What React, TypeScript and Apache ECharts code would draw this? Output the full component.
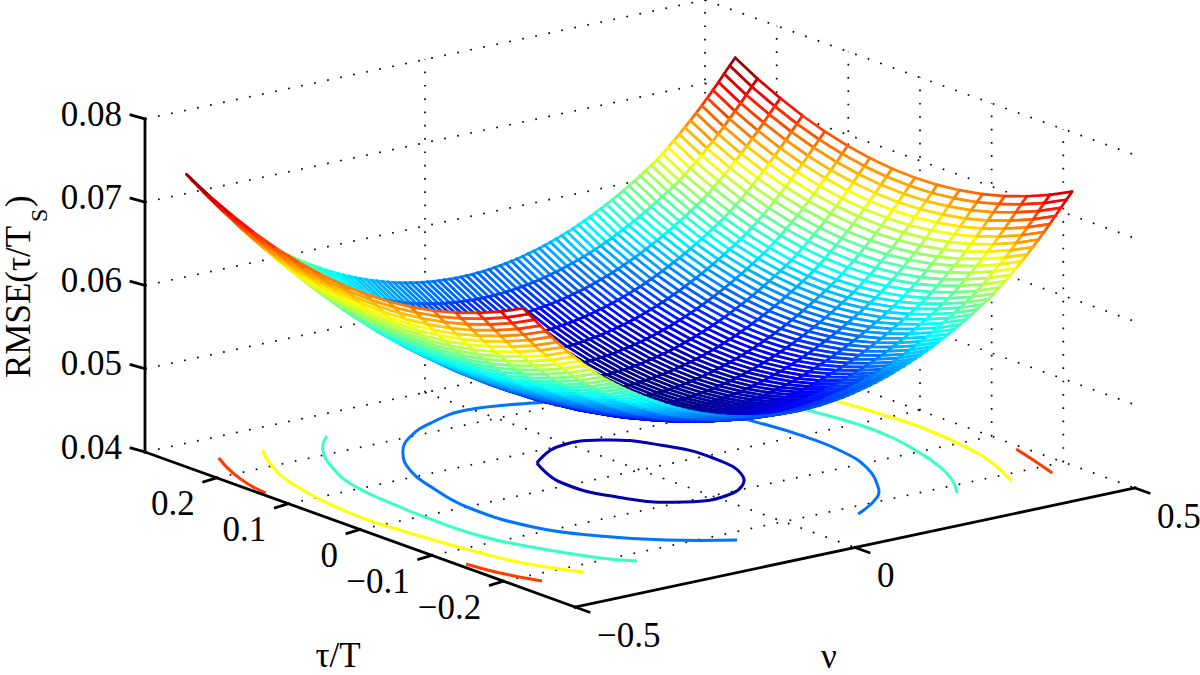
import React, { useEffect, useRef } from "react";
import * as echarts from "echarts";

const nuValues = [
  -0.49,-0.48,-0.47,-0.46,-0.45,-0.44,-0.43,-0.42,-0.41,-0.40,-0.39,-0.38,-0.37,-0.36,-0.35,-0.34,-0.33,
  -0.32,-0.31,-0.30,-0.29,-0.28,-0.27,-0.26,-0.25,-0.24,-0.23,-0.22,-0.21,-0.20,-0.19,-0.18,-0.17,-0.16,
  -0.15,-0.14,-0.13,-0.12,-0.11,-0.10,-0.09,-0.08,-0.07,-0.06,-0.05,-0.04,-0.03,-0.02,-0.01,0,
  0.01,0.02,0.03,0.04,0.05,0.06,0.07,0.08,0.09,0.10,0.11,0.12,0.13,0.14,0.15,0.16,0.17,
  0.18,0.19,0.20,0.21,0.22,0.23,0.24,0.25,0.26,0.27,0.28,0.29,0.30,0.31,0.32,0.33,
  0.34,0.35,0.36,0.37,0.38,0.39,0.40,0.41,0.42,0.43,0.44,0.45,0.46,0.47,0.48,0.49,
];
// RMSE along nu, on the line tau = 0
const rmseAlongNu = [
  .06813,.06730,.06647,.06562,.06480,.06400,.06322,.06247,.06174,.06104,.06036,.05970,.05907,.05845,.05787,.05735,.05686,
  .05638,.05591,.05546,.05502,.05460,.05419,.05380,.05343,.05306,.05271,.05238,.05206,.05176,.05147,.05120,.05094,.05069,
  .05047,.05025,.05005,.04987,.04970,.04954,.04940,.04927,.04916,.04907,.04899,.04892,.04887,.04883,.04881,.04880,
  .04881,.04883,.04887,.04892,.04899,.04907,.04916,.04927,.04940,.04954,.04970,.04987,.05005,.05025,.05047,.05069,.05094,
  .05120,.05147,.05176,.05206,.05238,.05271,.05306,.05343,.05380,.05419,.05460,.05502,.05546,.05591,.05638,.05686,
  .05735,.05787,.05845,.05907,.05970,.06036,.06104,.06174,.06247,.06322,.06400,.06480,.06562,.06647,.06730,.06813,
];
const tauValues = [.25,.219,.187,.156,.125,.093,.062,.031,-.001,-.032,-.063,-.095,-.126,-.157,-.189,-.22];
// RMSE rise along tau, away from tau = 0
const rmseRiseAlongTau = [.00663,.00507,.00372,.00258,.00165,.00092,.00041,.0001,0,.00011,.00043,.00095,.00168,.00262,.00377,.00513];

const zTicks = [0.04, 0.05, 0.06, 0.07, 0.08];
const zTickLabels = ["0.04", "0.05", "0.06", "0.07", "0.08"];
const tauTicks = [0.2, 0.1, 0, -0.1, -0.2];
const tauTickLabels = ["0.2", "0.1", "0", "\u22120.1", "\u22120.2"];
const nuTicks = [-0.5, 0, 0.5];
const nuTickLabels = ["\u22120.5", "0", "0.5"];

const contourLevels = [0.05, 0.055, 0.06, 0.065, 0.07];
// each contour: pieces of [nu, tau]
const contour050 = [[
  [-.094,.0705],[-.0217,.099],[.052,.0923],[.1004,.0505],[.1195,-.0086],[.094,-.0705],
  [.0329,-.1042],[-.0514,-.1003],[-.11,-.0539],[-.1273,.0122],[-.094,.0705],
]];
const contour055 = [[
  [.1079,-.2201],[.1823,-.1886],[.2145,-.1647],[.2613,-.1127],[.2843,-.0614],[.2895,-.005],[.2838,.0407],[.2506,.14],[.1906,.1909],
  [.0884,.2186],[-.0076,.2358],[-.0832,.2241],[-.1557,.1995],[-.2103,.1666],[-.2585,.1191],[-.2888,.0634],[-.3098,-.0005],
  [-.2979,-.0835],[-.2506,-.1401],[-.1878,-.1845],[-.1091,-.2207],
]];
const contour060 = [
  [[-.2459,.2449],[-.294,.2129],[-.3389,.1639],[-.3693,.1122],[-.3851,.0342],[-.3885,-.0146],[-.3876,-.0614],[-.3735,-.1105],[-.3238,-.1876],[-.2869,-.2201]],
  [[.2847,-.2202],[.3195,-.186],[.3465,-.1481],[.3677,-.1036],[.3841,-.0531],[.3875,-.0044],[.3746,.0597],[.3579,.0983]],
];
const contour065 = [
  [[-.3614,.244],[-.3941,.2088],[-.4308,.1521],[-.4599,.0455],[-.4567,-.0219],[-.4386,-.1154],[-.4212,-.1659],[-.3818,-.219]],
  [[.3827,-.219],[.4106,-.1776],[.4318,-.1332],[.4489,-.0443],[.4461,-.0004],[.4363,.0661],[.4228,.1071]],
];
const contour070 = [
  [[-.4358,.2473],[-.4668,.2035],[-.4851,.1655],[-.492,.1377]],
  [[-.4884,-.1389],[-.4782,-.1784],[-.456,-.2196]],
  [[.488,-.1436],[.4729,-.1792],[.4538,-.2207]],
];
const contours = [contour050, contour055, contour060, contour065, contour070];

// ---- view ----
const NU_MIN = -0.5, NU_MAX = 0.5, TAU_MAX = 0.3, TAU_MIN = -0.3, Z_MIN = 0.04, Z_MAX = 0.08;
const FONT = '"Liberation Serif", "Times New Roman", serif';

function project(nu: number, tau: number, z: number): [number, number] {
  const a = (nu - NU_MIN) / (NU_MAX - NU_MIN);
  const b = (TAU_MAX - tau) / (TAU_MAX - TAU_MIN);
  const c = (z - Z_MIN) / (Z_MAX - Z_MIN);
  return [145 + 560 * a + 430 * b, 452 - 119 * a + 155 * b - 333 * c];
}

const surfaceZ = (i: number, j: number) => rmseAlongNu[i] + rmseRiseAlongTau[j];
const colourMin = Math.min(...rmseAlongNu);
const colourMax = Math.max(...rmseAlongNu) + Math.max(...rmseRiseAlongTau);

function jet(z: number): string {
  const v = Math.min(1, Math.max(0, (z - colourMin) / (colourMax - colourMin)));
  const ch = (t: number) => Math.round(255 * Math.min(1, Math.max(0, t)));
  return `rgb(${ch(Math.min(4 * v - 1.5, -4 * v + 4.5))},${ch(Math.min(4 * v - 0.5, -4 * v + 3.5))},${ch(Math.min(4 * v + 0.5, -4 * v + 2.5))})`;
}

function seg(points: [number, number][], extra: any) {
  return {
    type: "line",
    data: points,
    showSymbol: false,
    symbol: "none",
    silent: true,
    animation: false,
    z: extra.z ?? 1,
    lineStyle: { color: extra.color, width: extra.width, type: extra.dash ?? "solid", cap: extra.cap ?? "butt" },
  };
}

function buildOption() {
  const series: any[] = [];
  const dot = { color: "#000", width: 1.7, dash: [1.7, 11.6] as number[], z: 1 };
  // grid on the two back walls and the floor
  zTicks.forEach((z) => {
    series.push(seg([project(NU_MIN, TAU_MAX, z), project(NU_MAX, TAU_MAX, z)], dot));
    series.push(seg([project(NU_MAX, TAU_MAX, z), project(NU_MAX, TAU_MIN, z)], dot));
  });
  nuTicks.forEach((n) => {
    if (n > NU_MIN) series.push(seg([project(n, TAU_MAX, Z_MIN), project(n, TAU_MAX, Z_MAX)], dot));
    if (n > NU_MIN && n < NU_MAX) series.push(seg([project(n, TAU_MAX, Z_MIN), project(n, TAU_MIN, Z_MIN)], dot));
  });
  tauTicks.forEach((t) => {
    series.push(seg([project(NU_MAX, t, Z_MIN), project(NU_MAX, t, Z_MAX)], dot));
    series.push(seg([project(NU_MIN, t, Z_MIN), project(NU_MAX, t, Z_MIN)], dot));
  });
  // contours on the floor
  const contourItems: number[][] = [];
  contours.forEach((pieces, k) => pieces.forEach((_piece, p) => contourItems.push([k, p])));
  series.push({
    type: "custom",
    data: contourItems,
    silent: true,
    clip: false,
    z: 2,
    animation: false,
    renderItem: (_p: any, api: any) => {
      const k = api.value(0), p = api.value(1);
      const points = contours[k][p].map(([n, t]) => api.coord(project(n, t, Z_MIN)));
      return {
        type: "polyline",
        shape: { points, smooth: 0.45 },
        style: { stroke: jet(contourLevels[k]), lineWidth: 3, fill: null, lineJoin: "round" },
      };
    },
  });
  // axes
  const axis = { color: "#000", width: 2.8, z: 3, cap: "square" };
  series.push(seg([project(NU_MIN, TAU_MAX, Z_MIN), project(NU_MIN, TAU_MAX, Z_MAX)], axis));
  series.push(seg([project(NU_MIN, TAU_MAX, Z_MIN), project(NU_MIN, TAU_MIN, Z_MIN)], axis));
  series.push(seg([project(NU_MIN, TAU_MIN, Z_MIN), project(NU_MAX, TAU_MIN, Z_MIN)], axis));
  zTicks.forEach((z) => {
    const p = project(NU_MIN, TAU_MAX, z);
    series.push(seg([p, [p[0] - 14, p[1] - 4]], axis));
  });
  tauTicks.forEach((t) => {
    const p = project(NU_MIN, t, Z_MIN);
    series.push(seg([p, [p[0] - 13, p[1] + 4]], axis));
  });
  nuTicks.forEach((n) => {
    const p = project(n, TAU_MIN, Z_MIN);
    series.push(seg([p, [p[0] + 14, p[1] + 5]], axis));
  });

  // mesh, painted far to near
  const cells: number[][] = [];
  for (let i = nuValues.length - 2; i >= 0; i--) {
    for (let j = 0; j < tauValues.length - 1; j++) cells.push([i, j]);
  }
  series.push({
    type: "custom",
    data: cells,
    silent: true,
    clip: false,
    z: 4,
    progressive: 0,
    animation: false,
    renderItem: (_p: any, api: any) => {
      const i = api.value(0), j = api.value(1);
      const corner = (a: number, b: number) => {
        const q = project(nuValues[a], tauValues[b], surfaceZ(a, b));
        return api.coord(q);
      };
      const p00 = corner(i, j), p10 = corner(i + 1, j), p11 = corner(i + 1, j + 1), p01 = corner(i, j + 1);
      const edge = (p: number[], q: number[], z: number) => ({
        type: "line",
        shape: { x1: p[0], y1: p[1], x2: q[0], y2: q[1] },
        style: { stroke: jet(z), lineWidth: 2.7, lineCap: "round", fill: null },
      });
      return {
        type: "group",
        children: [
          { type: "polygon", shape: { points: [p00, p10, p11, p01] }, style: { fill: "#fff", stroke: null } },
          edge(p00, p10, (surfaceZ(i, j) + surfaceZ(i + 1, j)) / 2),
          edge(p10, p11, (surfaceZ(i + 1, j) + surfaceZ(i + 1, j + 1)) / 2),
          edge(p11, p01, (surfaceZ(i + 1, j + 1) + surfaceZ(i, j + 1)) / 2),
          edge(p01, p00, (surfaceZ(i, j + 1) + surfaceZ(i, j)) / 2),
        ],
      };
    },
  });

  const label = (text: string, x: number, y: number, align: string, size = 35, rotation = 0) => ({
    type: "text",
    x,
    y,
    rotation,
    z: 10,
    silent: true,
    style: { text, x: 0, y: 0, fill: "#000", font: `${size}px ${FONT}`, textAlign: align, textVerticalAlign: "middle" },
  });
  const graphics: any[] = [];
  zTicks.forEach((z, k) => {
    const p = project(NU_MIN, TAU_MAX, z);
    graphics.push(label(zTickLabels[k], p[0] - 23, p[1] - 5, "right"));
  });
  tauTicks.forEach((t, k) => {
    const p = project(NU_MIN, t, Z_MIN);
    graphics.push(label(tauTickLabels[k], p[0] - 22, p[1] + 26, "right"));
  });
  nuTicks.forEach((n, k) => {
    const p = project(n, TAU_MIN, Z_MIN);
    graphics.push(label(nuTickLabels[k], p[0] + 22, p[1] + 28, "left"));
  });
  graphics.push(label("\u03c4/T", 338, 655, "center"));
  graphics.push(label("\u03bd", 829, 656, "center"));
  graphics.push(label("RMSE(\u03c4/T", 18, 378, "left", 35, Math.PI / 2));
  graphics.push(label("S", 39, 222, "left", 24, Math.PI / 2));
  graphics.push(label(")", 18, 207, "left", 35, Math.PI / 2));

  return {
    animation: false,
    backgroundColor: "#fff",
    grid: { left: 0, right: 0, top: 0, bottom: 0 },
    xAxis: { type: "value", min: 0, max: 1200, show: false },
    yAxis: { type: "value", min: 0, max: 675, inverse: true, show: false },
    series,
    graphic: graphics,
  };
}

export default function App() {
  const ref = useRef<HTMLDivElement>(null);
  useEffect(() => {
    document.body.style.margin = "0";
    const chart = echarts.init(ref.current!, null, { renderer: "svg" });
    chart.setOption(buildOption() as any);
    return () => chart.dispose();
  }, []);
  return <div ref={ref} style={{ width: 1200, height: 675 }} />;
}
